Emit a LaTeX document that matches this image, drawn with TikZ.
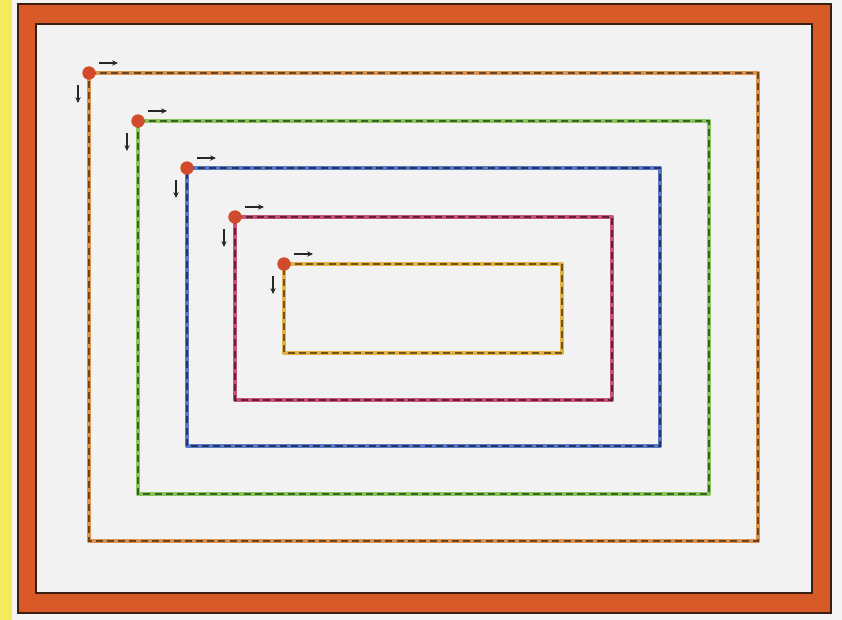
\documentclass[tikz,border=0pt]{standalone}
\usetikzlibrary{arrows.meta,calc}
\definecolor{frameor}{HTML}{D85A28}
\definecolor{framedark}{HTML}{3A1E12}
\definecolor{paper}{HTML}{F1F2F1}
\definecolor{outside}{HTML}{F4F4F2}
\definecolor{ystrip}{HTML}{F3EA5C}
\definecolor{loopor}{HTML}{D9893E}
\definecolor{loopgr}{HTML}{7CC24A}
\definecolor{loopbl}{HTML}{4A6CC4}
\definecolor{looprd}{HTML}{C4426A}
\definecolor{loopye}{HTML}{E2AA34}
\definecolor{dotred}{HTML}{D24A2C}
\tikzset{
  handline/.style={line width=3.6pt, line join=round, line cap=round, opacity=.9},
  dashline/.style={line width=2pt, dash pattern=on 6pt off 3.5pt},
  startdot/.style={circle, fill=dotred, inner sep=0pt, minimum size=0.4cm},
  dirarrow/.style={-{Stealth[length=5pt,width=4.5pt]}, line width=1.2pt, black!85},
}
\begin{document}
\begin{tikzpicture}[x=0.03cm,y=-0.03cm]
\useasboundingbox (0,0) rectangle (842,620);
\fill[outside] (0,0) rectangle (842,620);
\fill[ystrip] (0,0) rectangle (12,620);
\filldraw[fill=frameor, draw=framedark, line width=1.6pt] (18,4) rectangle (831,613);
\filldraw[fill=paper, draw=framedark, line width=1.6pt] (36,24) rectangle (812,593);
\foreach \n/\x/\y/\r/\b/\c in {o/89/73/758/541/loopor, g/138/121/709/494/loopgr, b/187/168/660/446/loopbl, r/235/217/612/400/looprd, y/284/264/562/353/loopye}{
  \coordinate (\n tl) at (\x,\y);
  \coordinate (\n tr) at (\r,\y);
  \coordinate (\n br) at (\r,\b);
  \coordinate (\n bl) at (\x,\b);
  \draw[handline, \c] (\n tl) -- (\n tr) -- (\n br) -- (\n bl) -- cycle;
  \draw[dashline, \c!50!black] (\n tl) -- (\n tr) -- (\n br) -- (\n bl) -- cycle;
  \node[startdot] (\n dot) at (\n tl) {};
  \coordinate (\n ra) at ($(\n dot)+(10,-10)$);
  \coordinate (\n rb) at ($(\n dot)+(29,-10)$);
  \coordinate (\n da) at ($(\n dot)+(-11,12)$);
  \coordinate (\n db) at ($(\n dot)+(-11,30)$);
  \draw[dirarrow] (\n ra) -- (\n rb);
  \draw[dirarrow] (\n da) -- (\n db);
}
\end{tikzpicture}
\end{document}
